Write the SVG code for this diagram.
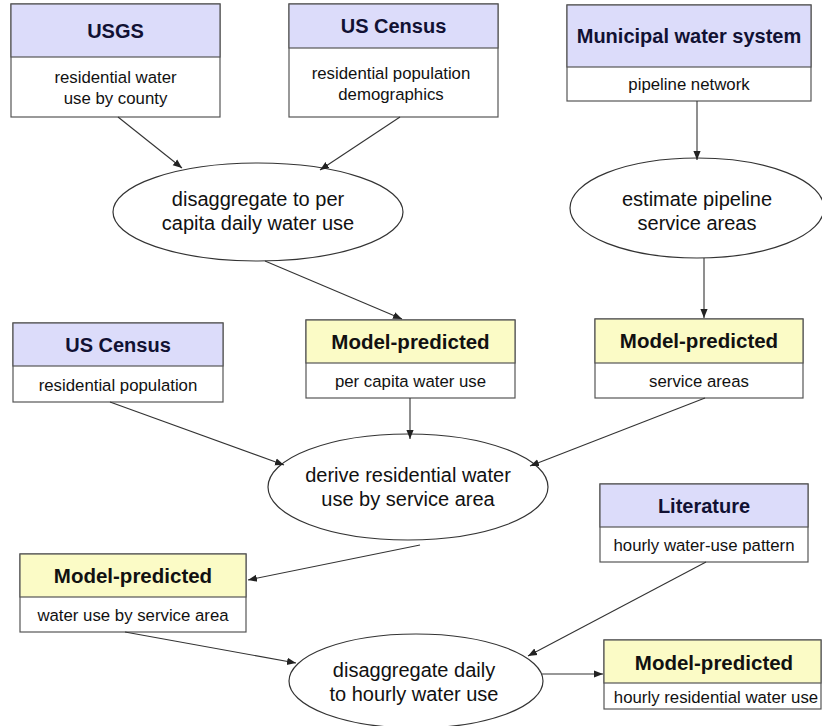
<svg xmlns="http://www.w3.org/2000/svg" width="822" height="726" viewBox="0 0 822 726">
<defs>
<marker id="ah" viewBox="0 0 10 10" refX="10" refY="5" markerWidth="9" markerHeight="9" markerUnits="userSpaceOnUse" orient="auto">
<path d="M0,1 L10,5 L0,9 Z" fill="#222"/>
</marker>
<style>
.box{fill:#fff;stroke:#555;stroke-width:1.2}
.hs{fill:#dcdcfa;stroke:#555;stroke-width:1.2}
.hm{fill:#fbfbc6;stroke:#555;stroke-width:1.2}
.ell{fill:#fff;stroke:#333;stroke-width:1.2}
.h{font-family:"Liberation Sans",Arial,sans-serif;font-weight:bold;font-size:20px;fill:#111133;text-anchor:middle}
.hy{font-family:"Liberation Sans",Arial,sans-serif;font-weight:bold;font-size:20.5px;fill:#111;text-anchor:middle}
.t{font-family:"Liberation Sans",Arial,sans-serif;font-size:16.8px;fill:#111;text-anchor:middle}
.e{font-family:"Liberation Sans",Arial,sans-serif;font-size:20px;fill:#111;text-anchor:middle}
.c{stroke:#333;stroke-width:1.1;fill:none;marker-end:url(#ah)}
</style>
</defs>
<rect width="822" height="726" fill="#fff"/>
<g id="usgs">
<rect class="box" x="11" y="4" width="209" height="113"/>
<rect class="hs" x="11" y="4" width="209" height="53"/>
<text class="h" x="115.5" y="38">USGS</text>
<text class="t" x="115.5" y="83">residential water</text>
<text class="t" x="115.5" y="104">use by county</text>
</g>
<g id="census1">
<rect class="box" x="289" y="4" width="209" height="113"/>
<rect class="hs" x="289" y="4" width="209" height="44"/>
<text class="h" x="393.5" y="33">US Census</text>
<text class="t" x="391" y="79">residential population</text>
<text class="t" x="391" y="100">demographics</text>
</g>
<g id="municipal">
<rect class="box" x="567" y="5" width="244" height="96"/>
<rect class="hs" x="567" y="5" width="244" height="62"/>
<text class="h" x="689" y="43">Municipal water system</text>
<text class="t" x="689" y="90">pipeline network</text>
</g>
<g id="disagg1">
<ellipse class="ell" cx="258" cy="212" rx="145" ry="49"/>
<text class="e" x="258" y="206">disaggregate to per</text>
<text class="e" x="258" y="230">capita daily water use</text>
</g>
<g id="estimate">
<ellipse class="ell" cx="697" cy="208" rx="127" ry="50"/>
<text class="e" x="697" y="206">estimate pipeline</text>
<text class="e" x="697" y="230">service areas</text>
</g>
<g id="census2">
<rect class="box" x="13" y="323" width="210" height="79"/>
<rect class="hs" x="13" y="323" width="210" height="43"/>
<text class="h" x="118" y="352">US Census</text>
<text class="t" x="118" y="391">residential population</text>
</g>
<g id="mp-percapita">
<rect class="box" x="306" y="320" width="209" height="78"/>
<rect class="hm" x="306" y="320" width="209" height="43"/>
<text class="hy" x="410.5" y="349">Model-predicted</text>
<text class="t" x="410.5" y="387">per capita water use</text>
</g>
<g id="mp-service">
<rect class="box" x="595" y="319" width="208" height="79"/>
<rect class="hm" x="595" y="319" width="208" height="44"/>
<text class="hy" x="699" y="348">Model-predicted</text>
<text class="t" x="699" y="387">service areas</text>
</g>
<g id="derive">
<ellipse class="ell" cx="408" cy="487" rx="140" ry="53"/>
<text class="e" x="408" y="482">derive residential water</text>
<text class="e" x="408" y="506">use by service area</text>
</g>
<g id="literature">
<rect class="box" x="600" y="484" width="208" height="78"/>
<rect class="hs" x="600" y="484" width="208" height="43"/>
<text class="h" x="704" y="513">Literature</text>
<text class="t" x="704" y="551">hourly water-use pattern</text>
</g>
<g id="mp-wateruse">
<rect class="box" x="20" y="554" width="226" height="78"/>
<rect class="hm" x="20" y="554" width="226" height="43"/>
<text class="hy" x="133" y="583">Model-predicted</text>
<text class="t" x="133" y="621">water use by service area</text>
</g>
<g id="disagg2">
<ellipse class="ell" cx="416" cy="681" rx="127" ry="47"/>
<text class="e" x="414" y="677">disaggregate daily</text>
<text class="e" x="414" y="701">to hourly water use</text>
</g>
<g id="mp-hourly">
<rect class="box" x="604" y="640" width="217" height="69"/>
<rect class="hm" x="604" y="640" width="217" height="43"/>
<text class="hy" x="714" y="670">Model-predicted</text>
<text class="t" x="716" y="703">hourly residential water use</text>
</g>
<g id="connectors">
<line class="c" x1="118" y1="117" x2="182" y2="168"/>
<line class="c" x1="400" y1="117" x2="320" y2="170"/>
<line class="c" x1="697" y1="101" x2="697" y2="160"/>
<line class="c" x1="265" y1="261" x2="402" y2="319"/>
<line class="c" x1="704" y1="258" x2="704" y2="318"/>
<line class="c" x1="110" y1="402" x2="284" y2="465"/>
<line class="c" x1="410" y1="398" x2="410" y2="439"/>
<line class="c" x1="705" y1="398" x2="530" y2="466"/>
<line class="c" x1="420" y1="545" x2="248" y2="580"/>
<line class="c" x1="706" y1="562" x2="528" y2="656"/>
<line class="c" x1="125" y1="632" x2="296" y2="663"/>
<line class="c" x1="542" y1="674" x2="603" y2="674"/>
</g>
</svg>
